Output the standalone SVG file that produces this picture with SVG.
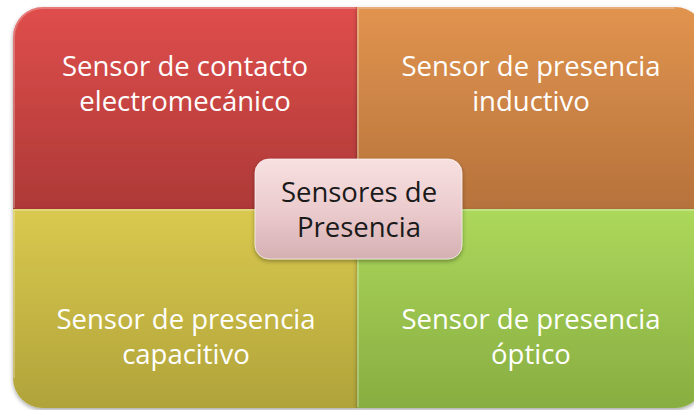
<svg xmlns="http://www.w3.org/2000/svg" width="694" height="410" viewBox="0 0 694 410">
<defs>
<linearGradient id="gRed" x1="0" y1="0" x2="0" y2="1"><stop offset="0" stop-color="#df4e4c"/><stop offset="1" stop-color="#ad3937"/></linearGradient>
<linearGradient id="gOrange" x1="0" y1="0" x2="0" y2="1"><stop offset="0" stop-color="#e1944f"/><stop offset="1" stop-color="#b6723b"/></linearGradient>
<linearGradient id="gYellow" x1="0" y1="0" x2="0" y2="1"><stop offset="0" stop-color="#dac94f"/><stop offset="1" stop-color="#b0a33a"/></linearGradient>
<linearGradient id="gGreen" x1="0" y1="0" x2="0" y2="1"><stop offset="0" stop-color="#acd85b"/><stop offset="1" stop-color="#88ad41"/></linearGradient>
<linearGradient id="gCenter" x1="0" y1="0" x2="0" y2="1"><stop offset="0" stop-color="#f7e0e1"/><stop offset="0.5" stop-color="#ecccce"/><stop offset="1" stop-color="#d5b0b3"/></linearGradient>
<filter id="sh" x="-10%" y="-10%" width="120%" height="130%"><feDropShadow dx="0" dy="2" stdDeviation="2" flood-color="#000" flood-opacity="0.35"/></filter>
</defs>
<style>
.q{filter:url(#sh);}
.edge{fill:none;stroke:#ffffff;stroke-opacity:0.25;stroke-width:2;}
.t{font-family:"Open Sans","Liberation Sans",sans-serif;font-size:27.5px;text-anchor:middle;fill:#ffffff;}
.tc{fill:#1a1a1a;}
</style>
<g id="red">
<path class="q" d="M13,209 V37 A30,30 0 0 1 43,7 H357 V209 Z" fill="url(#gRed)"/>
<path class="edge" d="M14,208 V37 A29,29 0 0 1 43,8 H356"/>
<text class="t" x="185" y="76">Sensor de contacto</text>
<text class="t" x="185" y="111">electromecánico</text>
</g>
<g id="orange">
<path class="q" d="M357,7 H675 A30,30 0 0 1 705,37 V209 H357 Z" fill="url(#gOrange)"/>
<path class="edge" d="M358,208 V8 H675"/>
<text class="t" x="531" y="76">Sensor de presencia</text>
<text class="t" x="531" y="111">inductivo</text>
</g>
<g id="yellow">
<path class="q" d="M13,209 H357 V408 H43 A30,30 0 0 1 13,378 Z" fill="url(#gYellow)"/>
<path class="edge" d="M14,378 V210 H356"/>
<text class="t" x="186" y="329">Sensor de presencia</text>
<text class="t" x="186" y="364">capacitivo</text>
</g>
<g id="green">
<path class="q" d="M357,209 H705 V378 A30,30 0 0 1 675,408 H357 Z" fill="url(#gGreen)"/>
<path class="edge" d="M358,407 V210 H704"/>
<text class="t" x="531" y="329">Sensor de presencia</text>
<text class="t" x="531" y="364">óptico</text>
</g>
<g id="center">
<rect class="q" x="255" y="159" width="207" height="100" rx="14" fill="url(#gCenter)" stroke="#ffffff" stroke-opacity="0.6" stroke-width="1"/>
<text class="t tc" x="359" y="202">Sensores de</text>
<text class="t tc" x="359" y="237">Presencia</text>
</g>
</svg>
